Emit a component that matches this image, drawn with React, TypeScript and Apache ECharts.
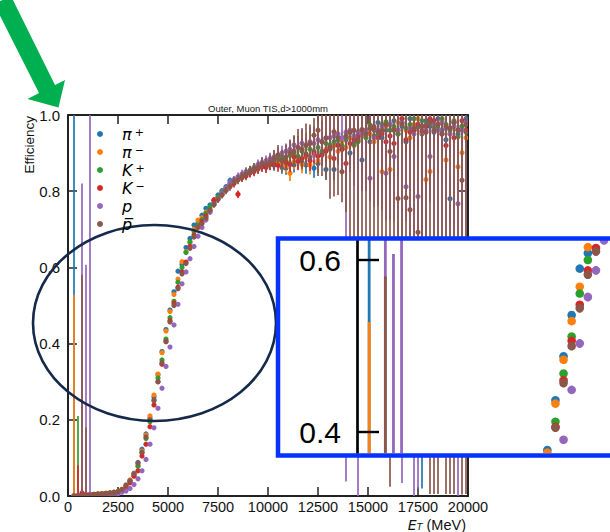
import React, { useEffect, useRef } from "react";
import * as echarts from "echarts";

// ---- binning (MeV) ----
const BIN_WIDTH = 200;
const N_BINS = 100;
const binCenters = Array.from({ length: N_BINS }, (_, k) => BIN_WIDTH * (k + 0.5));

// ---- axis ticks ----
const xTickValues = [0, 2500, 5000, 7500, 10000, 12500, 15000, 17500, 20000];
const yTickValues = [0, 0.2, 0.4, 0.6, 0.8, 1.0];
const insetTickValues = [0.4, 0.6];

// ---- efficiencies per E_T bin, in per mille (null = empty bin) ----
const effPiPlus = [
  null, 0, 1, 2, 3, 4, 4, 5, 6, 7,
  8, 10, 12, 17, 26, 40, 60, 88, 123, 163,
  205, 260, 318, 379, 437, 488, 536, 590, 608, 652,
  676, 711, 716, 737, 755, 764, 776, 790, 801, 812,
  828, 822, 834, 840, 848, 850, 858, 866, 864, 872,
  878, 868, 885, 862, 860, 872, 869, 880, 876, 869,
  890, 860, 873, 905, 857, 915, 857, 921, 910, 935,
  900, 925, 940, 882, 955, 930, 945, 980, 940, 960,
  975, 985, 950, 970, 930, 990, 960, 975, 950, 985,
  970, 955, 990, 960, 935, 780, 980, 950, 970, 990,
];
const errPiPlus = [
  0, 1000, 2, 2, 2, 2, 2, 2, 2, 2,
  2, 2, 2, 2, 2, 3, 3, 3, 3, 3,
  3, 3, 3, 3, 3, 3, 3, 3, 4, 4,
  4, 4, 4, 5, 5, 5, 6, 6, 7, 7,
  8, 8, 9, 9, 10, 10, 11, 11, 12, 12,
  13, 14, 15, 16, 17, 19, 20, 21, 22, 23,
  24, 25, 26, 25, 27, 28, 28, 29, 30, 31,
  32, 33, 34, 34, 36, 36, 38, 38, 40, 40,
  42, 42, 43, 44, 45, 46, 46, 48, 930, 48,
  50, 50, 52, 53, 54, 58, 56, 58, 58, 60,
];

const effPiMinus = [
  null, 0, 1, 2, 3, 3, 4, 5, 6, 7,
  9, 10, 12, 18, 27, 42, 58, 80, 118, 160,
  210, 265, 320, 376, 433, 484, 529, 569, 615, 641,
  665, 700, 724, 730, 745, 752, 770, 782, 795, 805,
  815, 825, 830, 838, 842, 850, 855, 860, 868, 865,
  870, 875, 880, 872, 865, 847, 878, 885, 870, 890,
  869, 895, 880, 900, 910, 890, 920, 905, 930, 915,
  940, 920, 932, 945, 960, 950, 930, 960, 851, 970,
  857, 965, 980, 990, 960, 940, 975, 990, 955, 831,
  852, 975, 960, 985, 882, 950, 970, 864, 901, 940,
];
const errPiMinus = [
  0, 528, 2, 2, 2, 2, 2, 2, 2, 2,
  2, 2, 2, 2, 2, 3, 3, 3, 3, 3,
  3, 3, 3, 3, 3, 3, 3, 4, 4, 4,
  4, 4, 5, 5, 5, 6, 6, 6, 7, 7,
  8, 8, 9, 10, 10, 11, 11, 12, 12, 13,
  14, 15, 16, 17, 18, 20, 21, 22, 23, 24,
  25, 26, 27, 26, 28, 29, 30, 31, 32, 33,
  34, 34, 35, 36, 38, 38, 39, 40, 42, 42,
  43, 44, 45, 46, 46, 48, 48, 50, 50, 52,
  53, 53, 54, 56, 56, 58, 58, 60, 60, 62,
];

const effKPlus = [
  null, 0, 0, 2, 2, 3, 4, 5, 6, 7,
  8, 9, 11, 16, 24, 38, 55, 78, 113, 151,
  195, 250, 310, 357, 412, 468, 511, 561, 600, 639,
  667, 695, 710, 725, 742, 758, 770, 785, 798, 808,
  820, 830, 835, 842, 850, 855, 862, 865, 870, 875,
  875, 880, 885, 890, 880, 895, 900, 892, 905, 898,
  910, 905, 915, 900, 925, 921, 930, 934, 920, 940,
  954, 921, 930, 950, 940, 974, 960, 945, 975, 982,
  960, 970, 950, 980, 965, 975, 990, 968, 985, 975,
  980, 970, 965, 990, 975, 960, 985, 943, 970, 955,
];
const errKPlus = [
  0, 0, 210, 2, 2, 2, 2, 2, 2, 2,
  2, 2, 2, 2, 3, 3, 3, 3, 3, 3,
  3, 3, 3, 3, 4, 4, 4, 4, 4, 4,
  4, 5, 5, 5, 6, 6, 6, 7, 7, 8,
  9, 9, 10, 10, 11, 12, 12, 13, 13, 14,
  15, 16, 17, 18, 19, 20, 21, 22, 24, 25,
  26, 27, 28, 28, 30, 31, 32, 33, 34, 35,
  36, 36, 38, 39, 40, 41, 42, 43, 44, 45,
  46, 46, 48, 48, 50, 51, 52, 53, 54, 55,
  56, 56, 58, 58, 60, 61, 62, 63, 64, 66,
];

const effKMinus = [
  null, 0, 0, 8, 3, 3, 4, 5, 5, 6,
  7, 8, 10, 14, 20, 35, 52, 66, 105, 136,
  182, 239, 300, 346, 406, 460, 506, 548, 588, 614,
  655, 685, 705, 720, 735, 748, 777, 780, 792, 803,
  815, 820, 792, 835, 840, 848, 852, 858, 865, 862,
  870, 872, 868, 880, 875, 870, 890, 878, 886, 895,
  880, 900, 892, 895, 905, 915, 886, 920, 910, 873,
  925, 935, 945, 960, 955, 965, 965, 940, 950, 930,
  945, 925, 960, 990, 935, 955, 960, 975, 958, 970,
  990, 985, 975, 950, 920, 965, 940, 961, 985, 960,
];
const errKMinus = [
  0, 0, 81, 3, 2, 2, 2, 2, 2, 2,
  2, 2, 2, 2, 3, 3, 3, 3, 3, 3,
  3, 3, 3, 4, 4, 4, 4, 4, 4, 4,
  5, 5, 5, 6, 6, 6, 7, 7, 8, 8,
  9, 10, 10, 11, 11, 12, 13, 13, 14, 14,
  15, 16, 17, 18, 19, 20, 22, 23, 24, 25,
  26, 27, 28, 29, 30, 31, 32, 33, 34, 35,
  36, 37, 38, 39, 40, 41, 42, 43, 44, 45,
  46, 47, 48, 49, 50, 51, 52, 53, 54, 55,
  56, 57, 58, 59, 60, 61, 62, 63, 64, 65,
];

const effProton = [
  null, 0, 0, 0, 0, 0, 1, 2, 3, 4,
  5, 6, 6, 10, 13, 20, 30, 45, 66, 96,
  136, 179, 230, 283, 340, 391, 449, 503, 557, 588,
  623, 655, 682, 705, 725, 745, 765, 780, 795, 808,
  822, 830, 838, 845, 851, 852, 860, 870, 875, 880,
  885, 890, 895, 900, 905, 910, 921, 915, 926, 920,
  930, 925, 935, 930, 939, 940, 945, 950, 940, 955,
  960, 945, 955, 950, 960, 834, 940, 960, 970, 847,
  975, 891, 960, 980, 812, 965, 950, 786, 970, 960,
  891, 975, 960, 980, 965, 950, 970, 767, 960, 980,
];
const errProton = [
  0, 0, 0, 820, 607, 1000, 2, 2, 2, 2,
  2, 2, 2, 2, 3, 3, 3, 3, 3, 4,
  4, 4, 4, 4, 4, 4, 4, 5, 5, 5,
  5, 6, 6, 6, 7, 7, 8, 8, 9, 9,
  10, 10, 11, 11, 12, 12, 13, 13, 14, 14,
  16, 17, 18, 19, 20, 22, 24, 30, 40, 32,
  40, 45, 50, 55, 70, 60, 75, 80, 90, 917,
  110, 130, 960, 150, 160, 60, 180, 200, 220, 123,
  250, 170, 300, 946, 90, 350, 950, 766, 400, 380,
  120, 400, 420, 450, 430, 450, 480, 767, 500, 520,
];

const effAntiProton = [
  null, 0, 0, 0, 0, 2, 3, 4, 5, 6,
  7, 8, 11, 17, 29, 40, 58, 86, 115, 155,
  200, 252, 300, 350, 405, 457, 500, 544, 583, 610,
  650, 680, 707, 715, 730, 750, 765, 778, 790, 802,
  812, 825, 830, 838, 845, 852, 858, 862, 873, 870,
  876, 885, 895, 880, 890, 900, 905, 915, 910, 920,
  925, 947, 960, 930, 940, 910, 956, 940, 851, 945,
  955, 960, 935, 962, 950, 965, 970, 955, 960, 975,
  904, 960, 781, 975, 783, 751, 965, 692, 970, 955,
  980, 960, 975, 950, 970, 965, 980, 960, 829, 975,
];
const errAntiProton = [
  0, 0, 0, 581, 180, 2, 2, 2, 2, 2,
  2, 2, 2, 3, 3, 3, 3, 3, 4, 4,
  4, 4, 4, 4, 4, 5, 5, 5, 5, 5,
  6, 6, 6, 7, 7, 8, 8, 9, 9, 10,
  11, 11, 12, 12, 13, 14, 15, 15, 16, 17,
  20, 23, 26, 28, 32, 36, 42, 48, 52, 58,
  50, 45, 120, 90, 110, 130, 170, 150, 80, 200,
  405, 460, 485, 562, 600, 565, 670, 605, 660, 725,
  880, 660, 581, 725, 583, 601, 765, 542, 820, 835,
  975, 955, 970, 800, 965, 960, 975, 840, 825, 970,
];

const speciesNames = ["pi+", "pi-", "K+", "K-", "p", "pbar"];
const speciesColors = ["#1f77b4", "#ff7f0e", "#2ca02c", "#d62728", "#9467bd", "#8c564b"];
const speciesEff = [effPiPlus, effPiMinus, effKPlus, effKMinus, effProton, effAntiProton];
const speciesErr = [errPiPlus, errPiMinus, errKPlus, errKMinus, errProton, errAntiProton];

const legendLabels: Record<string, string> = {
  "pi+": "{sp|}{g|π}{s|+}",
  "pi-": "{sp|}{g|π}{s|−}",
  "K+": "{sp|}{g|K}{s|+}",
  "K-": "{sp|}{g|K}{s|−}",
  p: "{sp|}{g|p}",
  pbar: "{sp|}{g|p\u0305}",
};

const FONT = "'Liberation Sans', Arial, Helvetica, sans-serif";
const MATH_FONT = "'DejaVu Sans', sans-serif";

function buildPoints(eff: (number | null)[], err: number[]) {
  const out: number[][] = [];
  eff.forEach((v, k) => {
    if (v === null) return;
    out.push([binCenters[k], v / 1000, (v - err[k]) / 1000, (v + err[k]) / 1000]);
  });
  return out;
}

function errorBarRenderer(color: string, barWidth: number, radius: number) {
  return (params: any, api: any) => {
    const cs = params.coordSys;
    const top = cs.y;
    const bottom = cs.y + cs.height;
    const e = api.value(0);
    const c = api.coord([e, api.value(1)]);
    if (c[0] > cs.x + cs.width + radius || c[0] < cs.x - radius) return null;
    const yLo = Math.min(bottom, api.coord([e, api.value(2)])[1]);
    const yHi = Math.max(top, api.coord([e, api.value(3)])[1]);
    const children: any[] = [];
    if (yLo - yHi > 0.5) {
      children.push({
        type: "line",
        shape: { x1: c[0], y1: yLo, x2: c[0], y2: yHi },
        style: { stroke: color, lineWidth: barWidth },
      });
    }
    children.push({
      type: "circle",
      shape: { cx: c[0], cy: c[1], r: radius },
      style: { fill: color },
    });
    return { type: "group", children };
  };
}

export default function App() {
  const ref = useRef<HTMLDivElement>(null);

  useEffect(() => {
    if (!ref.current) return;
    const chart = echarts.init(ref.current, null, { renderer: "svg" });

    const mainSeries = speciesNames.map((name, i) => ({
      type: "custom",
      name,
      xAxisIndex: 0,
      yAxisIndex: 0,
      clip: true,
      silent: true,
      z: 2,
      itemStyle: { color: speciesColors[i] },
      data: buildPoints(speciesEff[i], speciesErr[i]),
      renderItem: errorBarRenderer(speciesColors[i], 1.7, 2.6),
    }));

    const insetSeries = speciesNames.map((name, i) => ({
      type: "custom",
      name,
      xAxisIndex: 2,
      yAxisIndex: 2,
      clip: true,
      silent: true,
      z: 6,
      itemStyle: { color: speciesColors[i] },
      data: buildPoints(speciesEff[i], speciesErr[i]),
      renderItem: errorBarRenderer(speciesColors[i], 2.8, 4.3),
    }));

    const axisColor = "#222";

    chart.setOption({
      animation: false,
      backgroundColor: "#fff",
      grid: [
        { left: 68, top: 115, width: 400, height: 381 },
        { left: 357, top: 240, width: 253, height: 213 },
      ],
      xAxis: [
        {
          type: "value",
          gridIndex: 0,
          position: "bottom",
          min: 0,
          max: 20000,
          axisLine: { show: true, onZero: false, lineStyle: { color: axisColor, width: 2 } },
          axisTick: { show: true, inside: true, length: 9, customValues: xTickValues, lineStyle: { color: axisColor, width: 1.5 } },
          axisLabel: {
            show: true,
            customValues: xTickValues,
            formatter: (v: number) => String(v),
            fontSize: 14.5,
            lineHeight: 13,
            fontFamily: FONT,
            color: "#111",
            margin: 4,
          },
          splitLine: { show: false },
        },
        {
          type: "value",
          gridIndex: 0,
          position: "top",
          min: 0,
          max: 20000,
          axisLine: { show: true, onZero: false, lineStyle: { color: axisColor, width: 2 } },
          axisTick: { show: true, inside: true, length: 9, customValues: xTickValues, lineStyle: { color: axisColor, width: 1.5 } },
          axisLabel: { show: false },
          splitLine: { show: false },
        },
        {
          type: "value",
          gridIndex: 1,
          min: 0,
          max: 6247,
          show: false,
          splitLine: { show: false },
        },
      ],
      yAxis: [
        {
          type: "value",
          gridIndex: 0,
          position: "left",
          min: 0,
          max: 1,
          axisLine: { show: true, onZero: false, lineStyle: { color: axisColor, width: 2 } },
          axisTick: { show: true, inside: true, length: 9, customValues: yTickValues, lineStyle: { color: axisColor, width: 1.5 } },
          axisLabel: {
            show: true,
            customValues: yTickValues,
            formatter: (v: number) => v.toFixed(1),
            fontSize: 15,
            fontFamily: FONT,
            color: "#111",
            margin: 8,
          },
          splitLine: { show: false },
        },
        {
          type: "value",
          gridIndex: 0,
          position: "right",
          min: 0,
          max: 1,
          axisLine: { show: true, onZero: false, lineStyle: { color: axisColor, width: 2 } },
          axisTick: { show: true, inside: true, length: 9, customValues: yTickValues, lineStyle: { color: axisColor, width: 1.5 } },
          axisLabel: { show: false },
          splitLine: { show: false },
        },
        {
          type: "value",
          gridIndex: 1,
          position: "left",
          min: 0.3756,
          max: 0.6233,
          z: 6,
          axisLine: { show: true, onZero: false, lineStyle: { color: "#000", width: 2.7 } },
          axisTick: { show: true, inside: true, length: 22, customValues: insetTickValues, lineStyle: { color: "#000", width: 2.4 } },
          axisLabel: {
            show: true,
            customValues: insetTickValues,
            formatter: (v: number) => v.toFixed(1),
            fontSize: 30,
            fontFamily: FONT,
            color: "#000",
            margin: 16,
          },
          splitLine: { show: false },
        },
      ],
      legend: {
        data: speciesNames,
        orient: "vertical",
        left: 97,
        top: 126,
        padding: 0,
        itemWidth: 6,
        itemHeight: 6,
        itemGap: 2,
        icon: "circle",
        selectedMode: false,
        formatter: (name: string) => legendLabels[name],
        textStyle: {
          rich: {
            sp: { width: 14 },
            g: { fontFamily: MATH_FONT, fontStyle: "italic", fontSize: 16, lineHeight: 15, color: "#000" },
            s: { fontFamily: MATH_FONT, fontSize: 11, lineHeight: 9, verticalAlign: "top", padding: [0, 0, 0, 3], color: "#000" },
          },
        },
      },
      graphic: [
        {
          type: "text",
          x: 268,
          y: 108,
          z: 10,
          style: {
            text: "Outer, Muon TIS,d>1000mm",
            fontSize: 9.5,
            fontFamily: FONT,
            fill: "#222",
            align: "center",
            verticalAlign: "middle",
          },
        },
        {
          type: "text",
          x: 29,
          y: 116,
          rotation: Math.PI / 2,
          z: 10,
          style: {
            text: "Efficiency",
            fontSize: 13.5,
            fontFamily: FONT,
            fill: "#111",
            align: "right",
            verticalAlign: "middle",
          },
        },
        {
          type: "text",
          x: 466,
          y: 524.5,
          z: 10,
          style: {
            text: "{i|E}{sub|T}{n| (MeV)}",
            align: "right",
            verticalAlign: "middle",
            rich: {
              i: { fontFamily: MATH_FONT, fontStyle: "italic", fontSize: 14, lineHeight: 13, fill: "#111" },
              sub: { fontFamily: MATH_FONT, fontStyle: "italic", fontSize: 9.5, lineHeight: 8, verticalAlign: "bottom", fill: "#111" },
              n: { fontFamily: FONT, fontSize: 14.5, lineHeight: 13, fill: "#111" },
            },
          },
        },
        {
          type: "ellipse",
          z: 3,
          shape: { cx: 154.5, cy: 323, rx: 121.5, ry: 98 },
          style: { fill: "transparent", stroke: "#15294b", lineWidth: 2.6 },
        },
        {
          type: "rect",
          z: 5,
          shape: { x: 278, y: 238.5, width: 400, height: 217 },
          style: { fill: "#ffffff" },
        },
        {
          type: "rect",
          z: 7,
          shape: { x: 278, y: 238.5, width: 400, height: 217 },
          style: { fill: "transparent", stroke: "#0433ff", lineWidth: 4.5 },
        },
        {
          type: "polygon",
          z: 8,
          shape: {
            points: [
              [11, -4],
              [55, 85],
              [65, 80],
              [58.5, 107.5],
              [27.5, 99],
              [39, 93],
              [-6, 4],
            ],
          },
          style: { fill: "#00b050" },
        },
      ],
      series: [...mainSeries, ...insetSeries],
    });

    return () => chart.dispose();
  }, []);

  return (
    <div
      ref={ref}
      style={{ position: "fixed", left: 0, top: 0, width: 610, height: 532, background: "#fff" }}
    />
  );
}
